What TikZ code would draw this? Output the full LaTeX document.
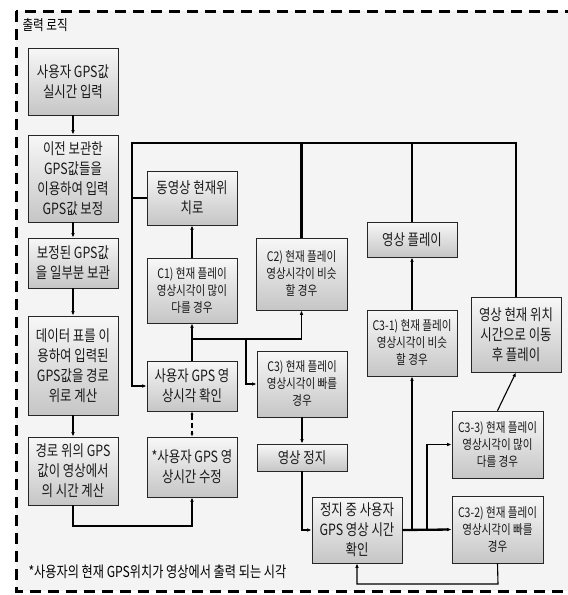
\documentclass[tikz,border=0pt]{standalone}
\usepackage{fontspec}
\newfontfamily\kr{Noto Sans CJK KR}[FakeStretch=0.8]
\usetikzlibrary{arrows.meta,shadows}
\begin{document}
\begin{tikzpicture}[x=1pt,y=-1pt,
 box/.style={draw=black!85, line width=0.7pt, top color=gray!6, bottom color=gray!45,
   align=center, inner sep=1pt, text=black!90,
   font=\kr\fontsize{15.5}{20}\selectfont,
   drop shadow={shadow xshift=1.2pt,shadow yshift=-1.2pt,opacity=0.35}},
 cbox/.style={box, font=\kr\fontsize{13.2}{17}\selectfont},
 ln/.style={line width=1.1pt},
 thk/.style={line width=2.3pt},
 arr/.style={-{Latex[length=4.5pt,width=3.6pt]}},
]
\useasboundingbox (0,0) rectangle (568,595);
\fill[white] (0,0) rectangle (568,595);
\fill[gray!9] (16,11) rectangle (580,591);
\draw[line width=3pt, dash pattern=on 11pt off 7pt] (16,11) rectangle (580,591);

\node[anchor=west, font=\kr\fontsize{14.5}{15}\selectfont] (title) at (19,25) {출력 로직};
\node[anchor=west, font=\kr\fontsize{15.2}{15}\selectfont] (fn) at (25,572) {*사용자의 현재 GPS위치가 영상에서 출력 되는 시각};

% left column
\node[box, minimum width=90pt, minimum height=67pt] (b1) at (73,81.5) {사용자 GPS값\\실시간 입력};
\node[box, minimum width=90pt, minimum height=87pt] (b2) at (73,178.5) {이전 보관한\\GPS값들을\\이용하여 입력\\GPS값 보정};
\node[box, minimum width=90pt, minimum height=50pt] (b3) at (73,263) {보정된 GPS값\\을 일부분 보관};
\node[box, minimum width=90pt, minimum height=99pt] (b4) at (73,365.5) {데이터 표를 이\\용하여 입력된\\GPS값을 경로\\위로 계산};
\node[box, minimum width=90pt, minimum height=68pt] (b5) at (73,471) {경로 위의 GPS\\값이 영상에서\\의 시간 계산};

% second column
\node[box, minimum width=90pt, minimum height=54pt] (b9) at (192,198) {동영상 현재위\\치로};
\node[cbox, minimum width=90pt, minimum height=65pt] (b8) at (192,290.5) {C1) 현재 플레이\\영상시각이 많이\\다를 경우};
\node[box, minimum width=90pt, minimum height=50pt] (b7) at (192,386) {사용자 GPS 영\\상시각 확인};
\node[box, minimum width=90pt, minimum height=60pt] (b6) at (192,467) {*사용자 GPS 영\\상시간 수정};

% third column
\node[cbox, minimum width=91pt, minimum height=72pt] (b10) at (301.5,274) {C2) 현재 플레이\\영상시각이 비슷\\할 경우};
\node[cbox, minimum width=90pt, minimum height=66pt] (b11) at (302,384) {C3) 현재 플레이\\영상시각이 빠를\\경우};
\node[box, minimum width=90pt, minimum height=27pt] (b12) at (302,457.5) {영상 정지};
\node[box, minimum width=90pt, minimum height=66pt] (b13) at (357,530) {정지 중 사용자\\GPS 영상 시간\\확인};

% right columns
\node[box, minimum width=90pt, minimum height=35pt] (b17) at (412,239.5) {영상 플레이};
\node[cbox, minimum width=90pt, minimum height=66pt] (b16) at (412,343) {C3-1) 현재 플레이\\영상시각이 비슷\\할 경우};
\node[box, minimum width=90pt, minimum height=75pt] (b18) at (516,334.5) {영상 현재 위치\\시간으로 이동\\후 플레이};
\node[cbox, minimum width=91pt, minimum height=67pt] (b15) at (497.5,444.5) {C3-3) 현재 플레이\\영상시각이 많이\\다를 경우};
\node[cbox, minimum width=91pt, minimum height=67pt] (b14) at (497.5,529.5) {C3-2) 현재 플레이\\영상시각이 빠를\\경우};

% junction coordinates
\coordinate (bl) at (132,143);
\coordinate (j2) at (192,339);
\coordinate (j3) at (246,339);
\coordinate (j4) at (412,530);
\coordinate (j5) at (427,530);
\coordinate (lo1) at (73,526);
\coordinate (lo2) at (498,584);

% left column arrows
\draw[ln,arr] (b1) -- (b2);
\draw[ln,arr] (b2) -- (b3);
\draw[ln,arr] (b3) -- (b4);
\draw[ln,arr] (b4) -- (b5);
\draw[ln,arr] (b5.south) -- (lo1) -| (b6.south);

% middle
\draw[ln,dash pattern=on 5pt off 3pt,{Latex[length=3.5pt,width=3pt]}-{Latex[length=3.5pt,width=3pt]}] (b7.south) -- (b6.north);
\draw[ln,arr] (b7.north) -- (b8.south);
\draw[ln,arr] (b8.north) -- (b9.south);
\draw[ln,arr] (j2) -| (b10.south);
\draw[ln,arr] (j3) |- (b11.west);

% feedback bus
\draw[ln] (b18.north) |- (b17.north |- bl);
\draw[ln] (b17.north) |- (b10.north |- bl);
\draw[thk,arr] (b10.north) |- (bl) |- (b7.west);
\draw[thk] (b9.west) -- (b9.west -| bl);

% stop branch
\draw[ln,arr] (b11.south) -- (b12.north);
\draw[ln,arr] (b12.south) |- (b13.west);
\draw[thk,arr] (b13.east) -- (b14.west);
\draw[ln,arr] (j4) -- (b16.south);
\draw[ln,arr] (j5) |- (b15.west);
\draw[ln,arr] (b14.south) -- (lo2) -| (b13.south);
\draw[ln,arr] (b15.north) -- (b18.south);
\draw[ln,arr] (b16.north) -- (b17.south);
\end{tikzpicture}
\end{document}
